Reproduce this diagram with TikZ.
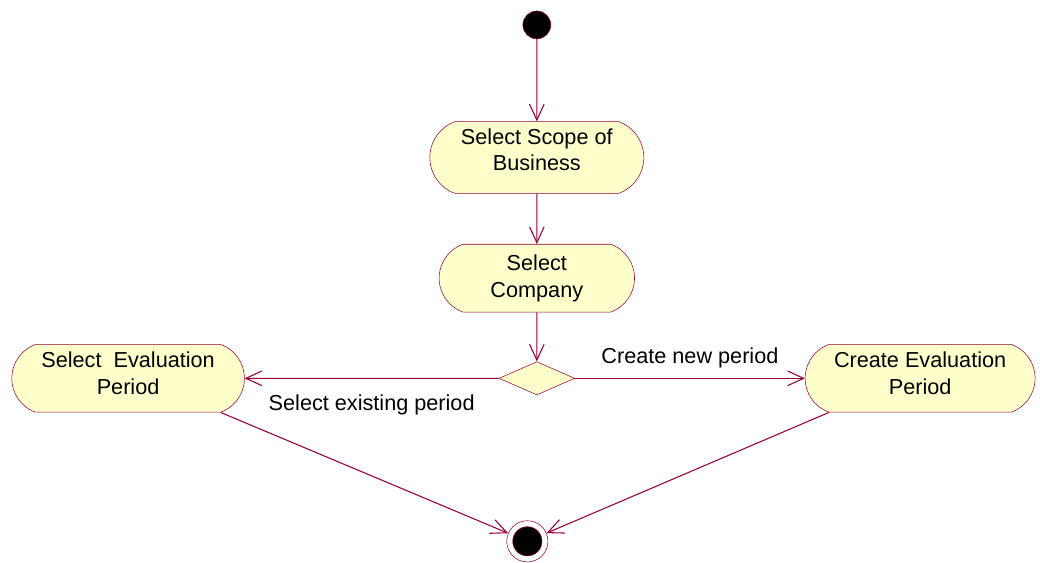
\documentclass[tikz,border=0pt]{standalone}
\usepackage{fontspec}
\setmainfont{Liberation Sans}
\usetikzlibrary{shapes.geometric}
\usetikzlibrary{shapes.misc}
\usetikzlibrary{arrows.meta}

\definecolor{bordeaux}{RGB}{153,0,51}
\definecolor{creme}{RGB}{255,255,204}

\tikzset{activite/.style={rounded rectangle, rounded rectangle arc length=140,
		draw=bordeaux, fill=creme, align=center, inner sep=0pt,
		font=\fontsize{16.3}{20}\selectfont},
	choix/.style={diamond, draw=bordeaux, fill=creme, inner sep=0pt,
		minimum width=57pt, minimum height=25pt},
	fleche/.style={draw=bordeaux, line width=0.8pt,
		-{Straight Barb[length=12pt,width=11pt,line width=0.8pt]}},
	etiquette/.style={font=\fontsize{16.3}{20}\selectfont}}

\begin{document}
\begin{tikzpicture}[x=0.75pt,y=-0.75pt]

	\fill[white] (0,0) rectangle (1040,563);

	% etats initial et final
	\node[circle, draw=bordeaux, fill=black, minimum size=21pt, inner sep=0pt] (debut) at (538.5,25) {};
	\node[circle, draw=bordeaux, minimum size=31pt, inner sep=0pt,
		path picture={\filldraw[fill=black, draw=bordeaux] (path picture bounding box.center) circle (11pt);}] (fin) at (529,543) {};

	% activites
	\node[activite, minimum width=161pt, minimum height=54pt, text depth=12pt] (portee) at (538.5,158) {Select Scope of\\Business};
	\node[activite, minimum width=147pt, minimum height=51pt] (societe) at (538.5,279) {Select\\Company};
	\node[choix] (decision) at (538.5,379.5) {};
	\node[activite, minimum width=175pt, minimum height=51pt, text depth=7.5pt] (choisir) at (128.5,379.5) {Select~ Evaluation\\Period};
	\node[activite, minimum width=173pt, minimum height=51pt, text depth=7.5pt] (creer) at (923,379.5) {Create Evaluation\\Period};

	% transitions
	\draw[fleche] (debut) -- (portee);
	\draw[fleche] (portee) -- (societe);
	\draw[fleche] (societe) -- (decision);
	\draw[fleche] (decision.west) -- node[etiquette, below=9pt] {Select existing period} (choisir);
	\draw[fleche] (decision.east) -- node[etiquette, above=4pt] {Create new period} (creer);
	\draw[fleche] (choisir.south east) -- (fin);
	\draw[fleche] (creer.south west) -- (fin);

\end{tikzpicture}
\end{document}
